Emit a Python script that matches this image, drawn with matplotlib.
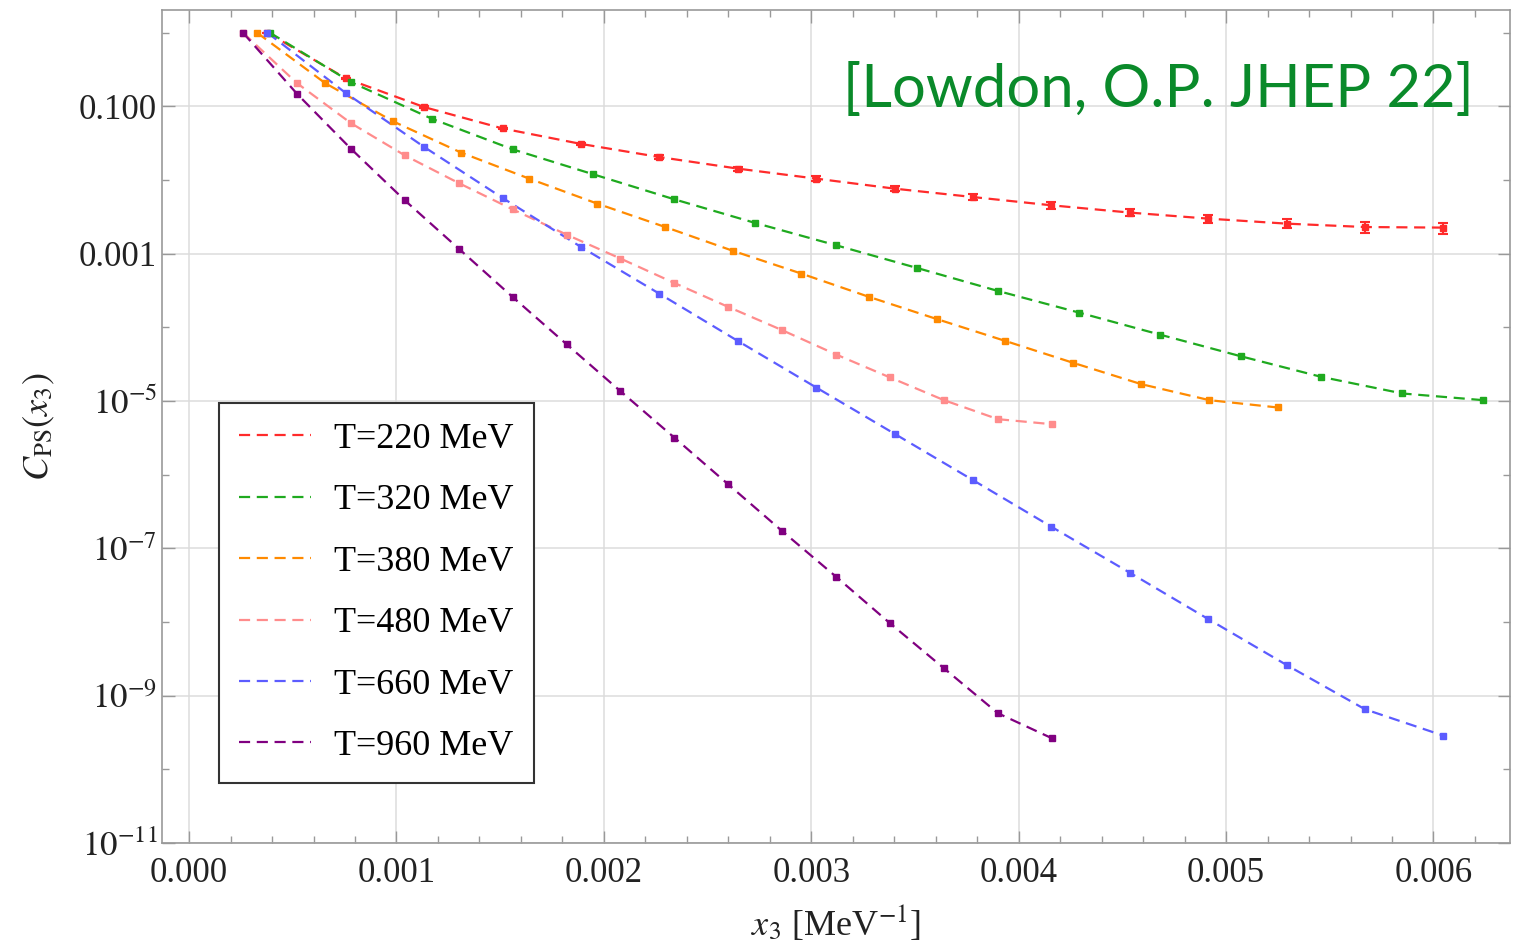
import numpy as np
import matplotlib
matplotlib.use("Agg")
import matplotlib.pyplot as plt
from matplotlib.ticker import FixedLocator, FixedFormatter

plt.rcParams['font.family'] = ['Liberation Serif', 'DejaVu Serif']
plt.rcParams['mathtext.fontset'] = 'stix'

# data: x3 in MeV^-1, correlator normalised at the first point
labels = ['T=220 MeV', 'T=320 MeV', 'T=380 MeV', 'T=480 MeV', 'T=660 MeV', 'T=960 MeV']
colors = ['#ff2b2b', '#1faa1f', '#ff8a00', '#ff8c8c', '#5c5cff', '#800080']

x_220 = [0.000378, 0.000756, 0.001134, 0.001512, 0.00189, 0.002268, 0.002646, 0.003024,
         0.003402, 0.00378, 0.004158, 0.004536, 0.004914, 0.005292, 0.00567, 0.006048]
x_320 = [0.00039, 0.00078, 0.00117, 0.00156, 0.00195, 0.00234, 0.00273, 0.00312,
         0.00351, 0.0039, 0.00429, 0.00468, 0.00507, 0.00546, 0.00585, 0.00624]
x_380 = [0.000328, 0.000656, 0.000984, 0.001312, 0.00164, 0.001968, 0.002296, 0.002624,
         0.002952, 0.00328, 0.003608, 0.003936, 0.004264, 0.004592, 0.00492, 0.005248]
x_480 = [0.00026, 0.00052, 0.00078, 0.00104, 0.0013, 0.00156, 0.00182, 0.00208,
         0.00234, 0.0026, 0.00286, 0.00312, 0.00338, 0.00364, 0.0039, 0.00416]
x_660 = x_220
x_960 = x_480

logc_220 = [0.0, -0.62, -1.01, -1.30, -1.51, -1.688, -1.845, -1.981, -2.117, -2.231,
            -2.343, -2.442, -2.524, -2.592, -2.638, -2.646]
logc_320 = [0.0, -0.670, -1.167, -1.583, -1.923, -2.262, -2.583, -2.886, -3.194, -3.506,
            -3.799, -4.098, -4.392, -4.673, -4.898, -4.989]
logc_380 = [0.0, -0.684, -1.204, -1.628, -1.981, -2.320, -2.638, -2.963, -3.270, -3.588,
            -3.890, -4.185, -4.483, -4.772, -4.989, -5.088]
logc_480 = [0.0, -0.684, -1.227, -1.665, -2.041, -2.398, -2.741, -3.066, -3.398, -3.723,
            -4.039, -4.369, -4.681, -4.989, -5.247, -5.315]
logc_660 = [0.0, -0.820, -1.552, -2.244, -2.909, -3.544, -4.185, -4.817, -5.446, -6.075,
            -6.708, -7.332, -7.961, -8.585, -9.186, -9.544]
logc_960 = [0.0, -0.828, -1.574, -2.275, -2.931, -3.588, -4.229, -4.867, -5.498, -6.133,
            -6.767, -7.387, -8.019, -8.630, -9.240, -9.579]

# relative errors (only the T=220 bars are visibly open)
relerr_220 = [0.0, 0.01, 0.02, 0.03, 0.04, 0.05, 0.06, 0.07, 0.08, 0.09,
              0.10, 0.11, 0.13, 0.14, 0.16, 0.17]

xs = [x_220, x_320, x_380, x_480, x_660, x_960]
logcs = [logc_220, logc_320, logc_380, logc_480, logc_660, logc_960]

ytick_vals = [1e-1, 1e-3, 1e-5, 1e-7, 1e-9, 1e-11]
ytick_labels = ['0.100', '0.001', '$10^{-5}$', '$10^{-7}$', '$10^{-9}$', '$10^{-11}$']
xtick_vals = [0.0, 0.001, 0.002, 0.003, 0.004, 0.005, 0.006]
xtick_labels = ['0.000', '0.001', '0.002', '0.003', '0.004', '0.005', '0.006']

fig = plt.figure(figsize=(15.15, 9.46), dpi=100)
ax = fig.add_axes([0.107, 0.109, 0.8897, 0.880])

for i in range(len(labels)):
    x = np.array(xs[i])
    c = 10.0 ** np.array(logcs[i])
    ax.plot(x, c, ls=(0, (5, 3)), lw=1.6, color=colors[i], label=labels[i], zorder=3)
    yerr = c * np.array(relerr_220) if i == 0 else None
    ax.errorbar(x, c, yerr=yerr, fmt='s', ms=5, color=colors[i], ecolor=colors[i],
                elinewidth=1.5, capsize=3.5, capthick=1.5, zorder=4)

ax.set_yscale('log')
ax.set_xlim(-0.00013, 0.006369)
ax.set_ylim(1e-11, 2.01)

ax.yaxis.set_major_locator(FixedLocator(ytick_vals))
ax.yaxis.set_major_formatter(FixedFormatter(ytick_labels))
ax.yaxis.set_minor_locator(FixedLocator([10.0 ** k for k in range(-11, 1)]))
ax.yaxis.set_minor_formatter(FixedFormatter([''] * 12))
ax.xaxis.set_major_locator(FixedLocator(xtick_vals))
ax.xaxis.set_major_formatter(FixedFormatter(xtick_labels))
ax.xaxis.set_minor_locator(FixedLocator(np.arange(-0.0002, 0.0066, 0.0002)))

ax.grid(True, which='major', color='#dcdcdc', lw=1.1, zorder=0)
ax.tick_params(which='both', direction='in', top=True, right=True, color='#999999',
               labelsize=25, labelcolor='#222222')
ax.tick_params(which='major', length=9, width=1)
ax.tick_params(which='minor', length=5, width=1)
ax.tick_params(axis='x', pad=10)
for s in ax.spines.values():
    s.set_color('#999999')
    s.set_linewidth(1.2)

ax.set_xlabel(r'$x_3$ [MeV$^{-1}$]', fontsize=26, color='#222222', labelpad=10)
ax.set_ylabel(r'$C_{\mathrm{PS}}(x_3)$', fontsize=26, color='#222222', labelpad=16)

leg = ax.legend(loc='lower left', bbox_to_anchor=(0.042, 0.072), fontsize=26,
                handlelength=2.0, labelspacing=0.78, handletextpad=0.65,
                borderpad=0.55, fancybox=False, framealpha=1.0, borderaxespad=0)
leg.get_frame().set_edgecolor('#333333')
leg.get_frame().set_linewidth(1.5)

fig.text(0.973, 0.905, '[Lowdon, O.P. JHEP 22]', family='Lato', fontsize=43,
         color='#0a8a2a', ha='right', va='center')

fig.savefig('out.png', dpi=100)
